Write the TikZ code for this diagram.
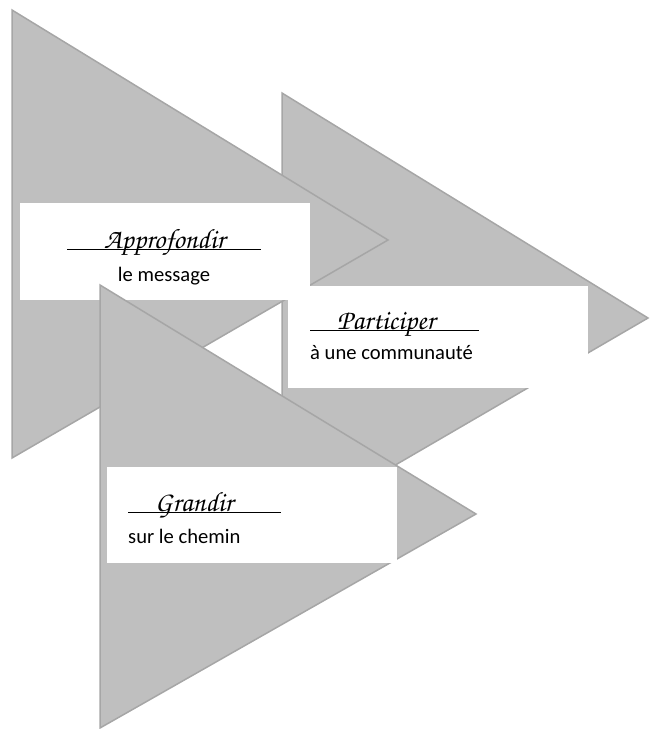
\documentclass[tikz,border=0pt]{standalone}
\usepackage{fontspec}
\setmainfont{Carlito}
\newfontfamily\cursive{TeX Gyre Chorus}
\usetikzlibrary{positioning}

\definecolor{gristri}{HTML}{BFBFBF}
\definecolor{bordtri}{HTML}{A6A6A6}

\newsavebox\motbox
\newcommand\titre[3]{%
  \sbox\motbox{\cursive\fontsize{28}{30}\selectfont #2}%
  \rule[-2pt]{#1}{1.3pt}\rlap{\rule[-2pt]{\wd\motbox}{1.3pt}}\usebox\motbox\rule[-2pt]{#3}{1.3pt}}

\begin{document}
\begin{tikzpicture}[x=1pt, y=-1pt,
    fleche/.style={fill=gristri, draw=bordtri, line width=1.5pt},
    boite/.style={fill=white, inner sep=0pt, anchor=north west},
    texte/.style={inner sep=0pt, anchor=base west, font=\fontsize{20.6}{24}\selectfont}]
    \useasboundingbox (0,0) rectangle (649,729);

    \draw[fleche] (282,93) -- (648,318) -- (282,531) -- cycle;
    \draw[fleche] (12,10) -- (388,240) -- (12,458) -- cycle;
    \node[boite, minimum width=290pt, minimum height=97pt] (boite1) at (20,203) {};
    \node[boite, minimum width=300pt, minimum height=102pt] (boite2) at (288,286) {};
    \draw[fleche] (100,285) -- (476,514) -- (100,728) -- cycle;
    \node[boite, minimum width=290pt, minimum height=96pt] (boite3) at (107,467) {};

    % titres
    \node[texte, anchor=base] (titre1) at (164,248) {\titre{37pt}{Approfondir}{36pt}};
    \node[texte, anchor=base] (sous1) at (164,281) {le message};
    \node[texte] (titre2) at (310,329) {\titre{27pt}{Participer}{44pt}};
    \node[texte] (sous2) at (310,359) {à une communauté};
    \node[texte] (titre3) at (128,511) {\titre{27pt}{Grandir}{48pt}};
    \node[texte] (sous3) at (128,543) {sur le chemin};
\end{tikzpicture}
\end{document}
